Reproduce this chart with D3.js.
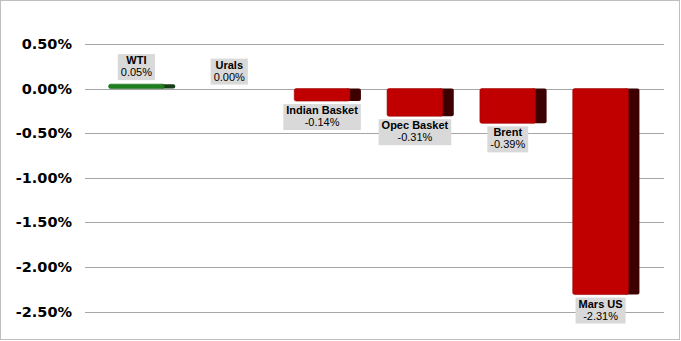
<!DOCTYPE html>
<html>
<head>
<meta charset="utf-8">
<script src="https://cdn.jsdelivr.net/npm/d3@7"></script>
<style>
  body { margin: 0; background: #fff; }
  svg { display: block; }
</style>
</head>
<body>
<script>
// chart data
var categories = ["WTI", "Urals", "Indian Basket", "Opec Basket", "Brent", "Mars US"];
var changes = [0.05, 0.00, -0.14, -0.31, -0.39, -2.31];
var yTicks = [0.5, 0, -0.5, -1, -1.5, -2, -2.5];

var W = 681, H = 341;
var svg = d3.select("body").append("svg")
    .attr("width", W)
    .attr("height", H);

// percent format with a plain hyphen for negatives
var pct = function(d) { return d3.format(".2f")(d).replace("\u2212", "-") + "%"; };

// outer frame
svg.append("rect")
    .attr("x", 0.5).attr("y", 0.5)
    .attr("width", W - 2).attr("height", H - 2)
    .attr("fill", "#fff")
    .attr("stroke", "#bfbfbf");

var y = d3.scaleLinear()
    .domain([-2.5, 0.5])
    .range([311.5, 44]);

var x = d3.scaleBand()
    .domain(categories)
    .range([90, 647])
    .paddingInner(0.4)
    .paddingOuter(0.2);

// gridlines
svg.append("g")
  .selectAll("line")
  .data(yTicks)
  .enter().append("line")
    .attr("x1", 85).attr("x2", 664)
    .attr("y1", function(d) { return Math.round(y(d)) + 0.5; })
    .attr("y2", function(d) { return Math.round(y(d)) + 0.5; })
    .attr("stroke", "#a6a6a6")
    .attr("stroke-width", 1);

// y axis labels
var yAxis = d3.axisLeft(y)
    .tickValues(yTicks)
    .tickSize(0)
    .tickPadding(0)
    .tickFormat(pct);

var ag = svg.append("g")
    .attr("transform", "translate(72,0)")
    .call(yAxis);
ag.select(".domain").remove();
ag.selectAll("text")
    .attr("font-family", "DejaVu Sans, sans-serif")
    .attr("font-weight", "bold")
    .attr("font-size", "14.5px")
    .attr("fill", "#000");

var depth = 11;
var data = categories.map(function(c, i) { return {name: c, value: changes[i]}; });

var bars = svg.append("g").selectAll("g")
    .data(data.filter(function(d) { return d.value !== 0; }))
    .enter().append("g");

// dark side face
bars.append("rect")
    .attr("x", function(d) { return x(d.name) + x.bandwidth() - 4; })
    .attr("y", function(d) { return Math.min(y(d.value), y(0)); })
    .attr("width", depth + 4)
    .attr("height", function(d) { return Math.max(Math.abs(y(d.value) - y(0)), 3); })
    .attr("rx", 2)
    .attr("fill", function(d) { return d.value > 0 ? "#17401a" : "#3d0000"; });

// front face
bars.append("rect")
    .attr("x", function(d) { return x(d.name); })
    .attr("y", function(d) { return Math.min(y(d.value), y(0)); })
    .attr("width", x.bandwidth())
    .attr("height", function(d) { return Math.max(Math.abs(y(d.value) - y(0)), 3); })
    .attr("rx", 2)
    .attr("fill", function(d) { return d.value > 0 ? "#1f7f1f" : "#c00000"; })
    .attr("stroke", function(d) { return d.value > 0 ? "#1a6a1a" : "#a00000"; })
    .attr("stroke-width", 0.6);

// data labels
var labels = svg.append("g").selectAll("g")
    .data(data)
    .enter().append("g")
    .attr("transform", function(d) {
      var cx = x(d.name) + x.bandwidth() / 2;
      var top = d.value >= 0 ? Math.min(y(d.value), y(0)) - 31 : y(d.value) + 2;
      return "translate(" + cx + "," + top + ")";
    });

labels.append("rect").attr("fill", "#d9d9d9");

labels.append("text")
    .attr("class", "nm")
    .attr("text-anchor", "middle")
    .attr("y", 11)
    .attr("font-family", "Liberation Sans, Arial, sans-serif")
    .attr("font-weight", "bold")
    .attr("font-size", "11px")
    .text(function(d) { return d.name; });

labels.append("text")
    .attr("class", "vl")
    .attr("text-anchor", "middle")
    .attr("y", 23)
    .attr("font-family", "Liberation Sans, Arial, sans-serif")
    .attr("font-size", "11px")
    .text(function(d) { return pct(d.value); });

labels.each(function() {
  var g = d3.select(this);
  var w = Math.max(g.select(".nm").node().getComputedTextLength(),
                   g.select(".vl").node().getComputedTextLength()) + 6;
  g.select("rect")
    .attr("x", -w / 2).attr("y", 1)
    .attr("width", w).attr("height", 26);
});
</script>
</body>
</html>
